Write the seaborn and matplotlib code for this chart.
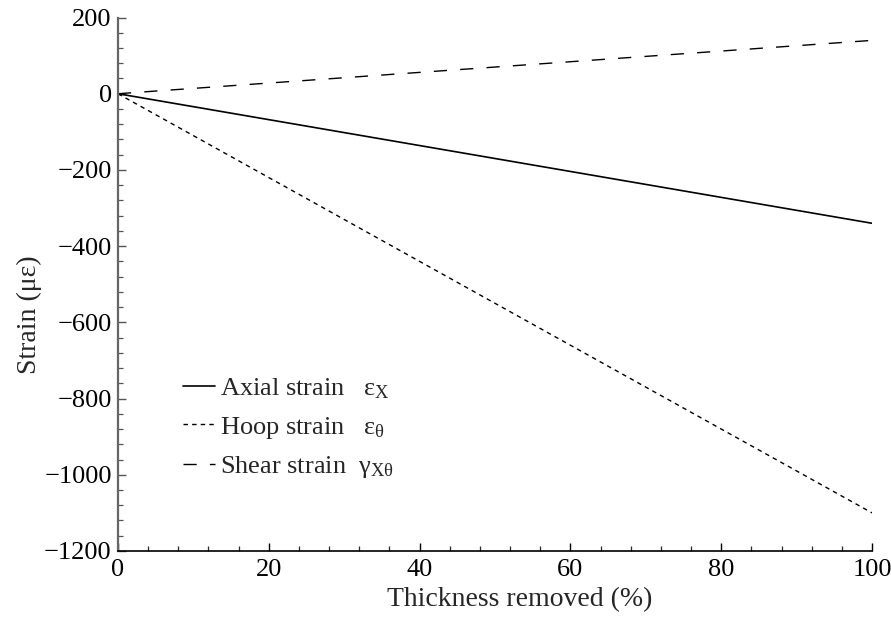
import numpy as np
import pandas as pd
import matplotlib
matplotlib.use("Agg")
import matplotlib.pyplot as plt
import seaborn as sns
from matplotlib.ticker import MultipleLocator

# Data
thickness = [0, 10, 20, 30, 40, 50, 60, 70, 80, 90, 100]
axial = [0, -34, -68, -102, -136, -170, -204, -238, -272, -306, -340]
hoop = [0, -110, -220, -330, -440, -550, -660, -770, -880, -990, -1100]
shear = [0, 14, 28, 42, 56, 70, 84, 98, 112, 126, 140]

labels = [r"Axial strain   $\varepsilon_{\mathrm{X}}$",
          r"Hoop strain   $\varepsilon_{\theta}$",
          r"Shear strain  $\gamma_{\mathrm{X}\theta}$"]

sns.set_theme(style="ticks")
plt.rcParams['font.family'] = ['Liberation Serif', 'DejaVu Serif']
plt.rcParams['mathtext.fontset'] = 'custom'
plt.rcParams['mathtext.rm'] = 'Liberation Serif'
plt.rcParams['mathtext.it'] = 'Liberation Serif'
plt.rcParams['mathtext.bf'] = 'Liberation Serif:bold'

df = pd.DataFrame({"x": thickness, "axial": axial, "hoop": hoop, "shear": shear})

fig = plt.figure(figsize=(8.91, 6.19), dpi=100)
ax = fig.add_axes([0.1324, 0.1099, 0.9787 - 0.1324, 0.9717 - 0.1099])

sns.lineplot(data=df, x="x", y="axial", ax=ax, color="black", lw=1.2,
             linestyle="-", label=labels[0])
sns.lineplot(data=df, x="x", y="hoop", ax=ax, color="black", lw=1.0,
             linestyle=(0, (3.2, 3.0)), label=labels[1])
sns.lineplot(data=df, x="x", y="shear", ax=ax, color="black", lw=1.0,
             linestyle=(0, (9.5, 9.5)), label=labels[2])

ax.set_xlim(0, 100)
ax.set_ylim(-1200, 200)
ax.xaxis.set_major_locator(MultipleLocator(20))
ax.xaxis.set_minor_locator(MultipleLocator(4))
ax.yaxis.set_major_locator(MultipleLocator(200))
ax.yaxis.set_minor_locator(MultipleLocator(40))

for s in ["top", "right"]:
    ax.spines[s].set_visible(False)
ax.spines["left"].set_color("#666666")
ax.spines["left"].set_linewidth(1.6)
ax.spines["bottom"].set_color("black")
ax.spines["bottom"].set_linewidth(1.2)

ax.tick_params(axis="both", which="major", direction="in", length=6, width=1.0,
               labelsize=19, colors="black", pad=4.5)
ax.tick_params(axis="x", which="major", pad=6)
ax.tick_params(axis="both", which="minor", direction="in", length=3.5, width=0.9)
ax.tick_params(axis="y", which="both", color="#555555")

ax.set_xlabel("Thickness removed (%)", fontsize=20)
ax.set_ylabel("Strain (με)", fontsize=20)
ax.xaxis.set_label_coords(0.533, -0.068)
ax.yaxis.set_label_coords(-0.101, 0.442)

leg = ax.legend(loc="upper left", bbox_to_anchor=(178 / 891, 1 - 371 / 619),
                bbox_transform=fig.transFigure, frameon=False, fontsize=19,
                handlelength=1.2, handletextpad=0.2, labelspacing=0.52,
                borderpad=0.2, borderaxespad=0)

fig.savefig("out.png", dpi=100)
